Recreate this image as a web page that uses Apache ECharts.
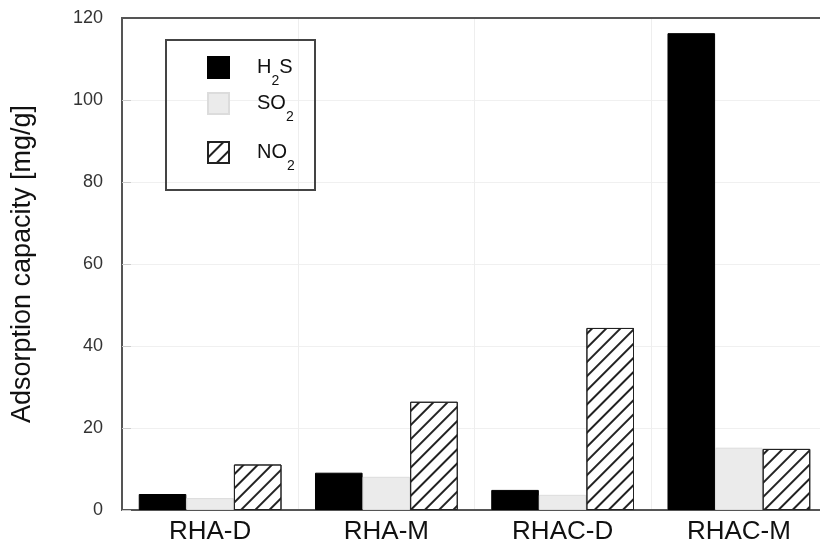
<!DOCTYPE html>
<html><head><meta charset="utf-8">
<script src="https://cdn.jsdelivr.net/npm/echarts@6/dist/echarts.min.js"></script>
<style>html,body{margin:0;padding:0;background:#fff}#c{width:820px;height:539px}</style>
</head><body><div id="c"></div>
<script>
const categories = ['RHA-D', 'RHA-M', 'RHAC-D', 'RHAC-M'];
const h2s = [3.9, 9.1, 4.9, 116.3];
const so2 = [2.9, 8.1, 3.7, 15.2];
const no2 = [11.1, 26.4, 44.4, 14.9];
const seriesNames = ['H2S', 'SO2', 'NO2'];
const legendLabels = { H2S: ['H', '2', 'S'], SO2: ['SO', '2', ''], NO2: ['NO', '2', ''] };
const yTicks = { min: 0, max: 120, interval: 20 };

const font = 'Liberation Sans, Arial, sans-serif';
const chart = echarts.init(document.getElementById('c'));

const rich = {
  n: { fontSize: 20, fontFamily: font, color: '#111', lineHeight: 22, verticalAlign: 'middle' },
  s: { fontSize: 14, fontFamily: font, color: '#111', lineHeight: 16, verticalAlign: 'top', padding: [18, 0, 0, 0] }
};
function fmt(name) {
  const p = legendLabels[name];
  return '{n|' + p[0] + '}{s|' + p[1] + '}' + (p[2] ? '{n|' + p[2] + '}' : '');
}
const legendTops = [56, 92, 141];
const legends = seriesNames.map((nm, i) => ({
  data: [nm], left: 207, top: legendTops[i], padding: 0, orient: 'vertical',
  itemWidth: 21, itemHeight: 21, icon: 'rect', selectedMode: false,
  formatter: fmt, textStyle: { rich: rich, padding: [0, 0, 0, 23] }
}));

const hatch = { symbol: 'rect', symbolSize: 1, color: '#222', backgroundColor: null,
  dashArrayX: [1, 0], dashArrayY: [1.2, 8], rotation: -Math.PI / 4 };

chart.setOption({
  animation: false,
  backgroundColor: '#fff',
  legend: legends,
  graphic: [
    { type: 'rect', shape: { x: 166, y: 40, width: 149, height: 150 },
      style: { fill: 'rgba(0,0,0,0)', stroke: '#444', lineWidth: 2 }, z: 10 },
    { type: 'line', shape: { x1: 121, y1: 18, x2: 820, y2: 18 }, style: { stroke: '#555', lineWidth: 2 }, z: 10 }
  ],
  grid: { left: 122, right: -7, top: 18, bottom: 29, containLabel: false, outerBoundsMode: 'none' },
  xAxis: {
    type: 'category', data: categories,
    axisLine: { lineStyle: { color: '#555', width: 2 } },
    axisTick: { show: false },
    axisLabel: { fontSize: 26, fontFamily: font, color: '#111', margin: 9 },
    splitLine: { show: true, lineStyle: { color: '#eeeeee', width: 1 } }
  },
  yAxis: {
    type: 'value', min: yTicks.min, max: yTicks.max, interval: yTicks.interval,
    name: 'Adsorption capacity [mg/g]', nameLocation: 'middle', nameGap: 86,
    nameTextStyle: { fontSize: 27, fontFamily: font, color: '#111' },
    axisLine: { show: true, lineStyle: { color: '#555', width: 2 } },
    axisTick: { show: true, inside: true, length: 9, lineStyle: { color: '#ccc' } },
    axisLabel: { fontSize: 18, fontFamily: font, color: '#333', margin: 19 },
    splitLine: { show: true, lineStyle: { color: '#f0f0f0', width: 1 } }
  },
  series: [
    { name: 'H2S', type: 'bar', data: h2s, barGap: '0%', barCategoryGap: '19%',
      itemStyle: { color: '#000', borderColor: '#000', borderWidth: 1 } },
    { name: 'SO2', type: 'bar', data: so2, barGap: '0%', barCategoryGap: '19%',
      itemStyle: { color: '#ebebeb', borderColor: '#dcdcdc', borderWidth: 1 } },
    { name: 'NO2', type: 'bar', data: no2, barGap: '0%', barCategoryGap: '19%',
      itemStyle: { color: '#fff', borderColor: '#222', borderWidth: 1, decal: hatch } }
  ]
});
</script></body></html>
